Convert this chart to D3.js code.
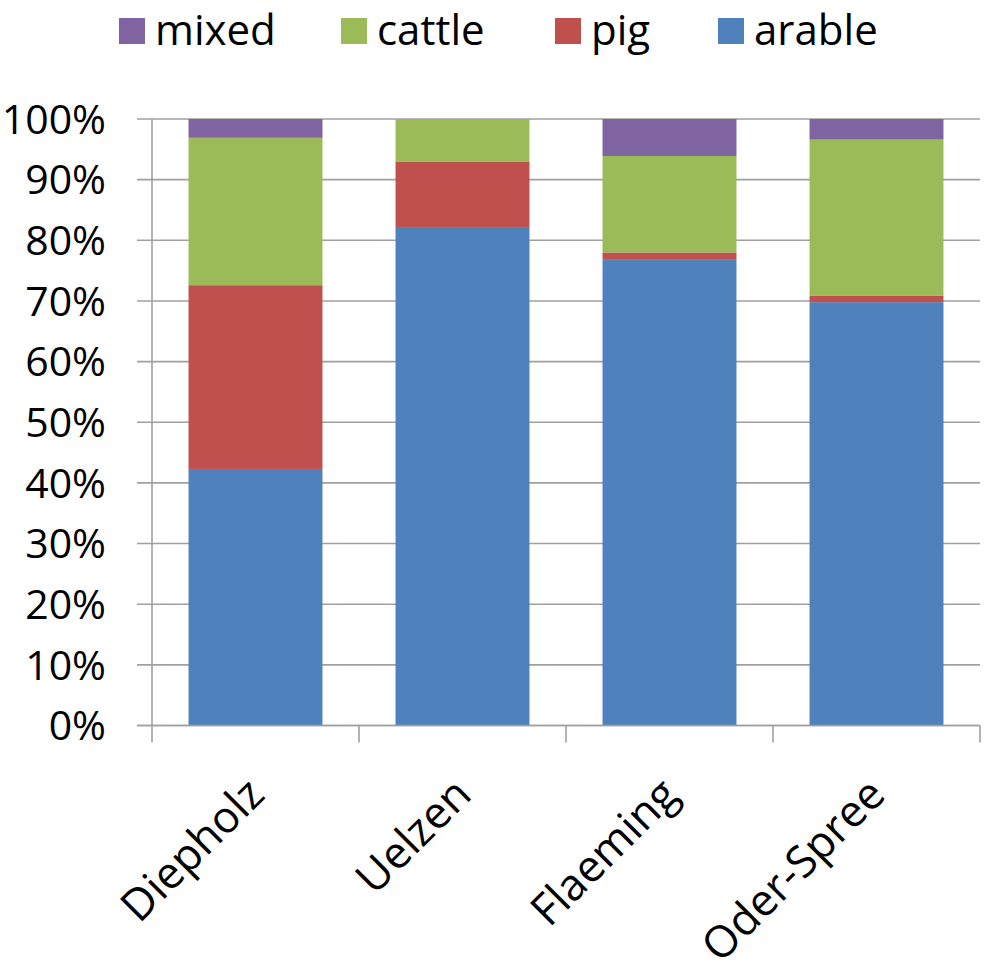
<!DOCTYPE html>
<html><head><meta charset="utf-8">
<script src="https://cdn.jsdelivr.net/npm/d3@7"></script>
<style>body{margin:0;background:#fff}svg{display:block}</style>
</head><body>
<script>
const categories = ["Diepholz", "Uelzen", "Flaeming", "Oder-Spree"];
const seriesNames = ["arable", "pig", "cattle", "mixed"];
const arable = [0.423, 0.822, 0.769, 0.698];
const pig    = [0.303, 0.108, 0.011, 0.011];
const cattle = [0.243, 0.070, 0.159, 0.257];
const mixed  = [0.031, 0.000, 0.061, 0.034];
const colors = {arable: "#4F81BD", pig: "#C0504D", cattle: "#9BBB59", mixed: "#8064A2"};
const legendOrder = ["mixed", "cattle", "pig", "arable"];
const yTicks = [0, 0.1, 0.2, 0.3, 0.4, 0.5, 0.6, 0.7, 0.8, 0.9, 1.0];

const W = 988, H = 973;
const FONT = "'Open Sans', sans-serif";
const svg = d3.select("body").append("svg").attr("width", W).attr("height", H);

const rows = categories.map((c, i) => ({cat: c, arable: arable[i], pig: pig[i], cattle: cattle[i], mixed: mixed[i]}));
const stack = d3.stack().keys(seriesNames)(rows);

const x = d3.scaleBand().domain(categories).range([152, 980]).paddingInner(0.353).paddingOuter(0.1765);
const y = d3.scaleLinear().domain([0, 1]).range([725.5, 119]);

// gridlines
svg.append("g").selectAll("line").data(yTicks).join("line")
  .attr("x1", 137).attr("x2", 980)
  .attr("y1", d => y(d)).attr("y2", d => y(d))
  .attr("stroke", "#a0a0a0").attr("stroke-width", 1.6);

// y axis line
svg.append("line").attr("x1", 152).attr("x2", 152).attr("y1", y(1)).attr("y2", y(0))
  .attr("stroke", "#a0a0a0").attr("stroke-width", 1.6);

// x axis ticks at band boundaries
const bounds = categories.map(c => x(c) - x.step() * x.paddingInner() / 2);
bounds.push(980);
bounds[0] = 152;
svg.append("g").selectAll("line").data(bounds).join("line")
  .attr("x1", d => d).attr("x2", d => d).attr("y1", y(0)).attr("y2", y(0) + 17)
  .attr("stroke", "#a0a0a0").attr("stroke-width", 1.6);

// bars
svg.append("g").selectAll("g").data(stack).join("g")
  .attr("fill", d => colors[d.key])
  .selectAll("rect").data(d => d).join("rect")
  .attr("x", d => x(d.data.cat))
  .attr("width", x.bandwidth())
  .attr("y", d => y(d[1]))
  .attr("height", d => y(d[0]) - y(d[1]));

// redraw x axis baseline on top
svg.append("line").attr("x1", 137).attr("x2", 980).attr("y1", y(0)).attr("y2", y(0))
  .attr("stroke", "#a0a0a0").attr("stroke-width", 1.6);

// y tick labels
svg.append("g").selectAll("text").data(yTicks).join("text")
  .attr("x", 106).attr("y", d => y(d)).attr("dy", "0.36em")
  .attr("text-anchor", "end")
  .attr("font-family", FONT).attr("font-size", 41)
  .text(d => d3.format(".0%")(d));

// x labels rotated
svg.append("g").selectAll("text").data(categories).join("text")
  .attr("transform", d => `translate(${x(d) + x.bandwidth() / 2 + 11},797) rotate(-45)`)
  .attr("text-anchor", "end")
  .attr("font-family", FONT).attr("font-size", 44)
  .text(d => d);

// legend
const legendX = [119, 341, 555, 718];
const lg = svg.append("g").selectAll("g").data(legendOrder).join("g")
  .attr("transform", (d, i) => `translate(${legendX[i]},18)`);
lg.append("rect").attr("width", 26).attr("height", 26).attr("fill", d => colors[d]);
lg.append("text").attr("x", 36).attr("y", 27)
  .attr("font-family", FONT).attr("font-size", 42)
  .text(d => d);
</script>
</body></html>
